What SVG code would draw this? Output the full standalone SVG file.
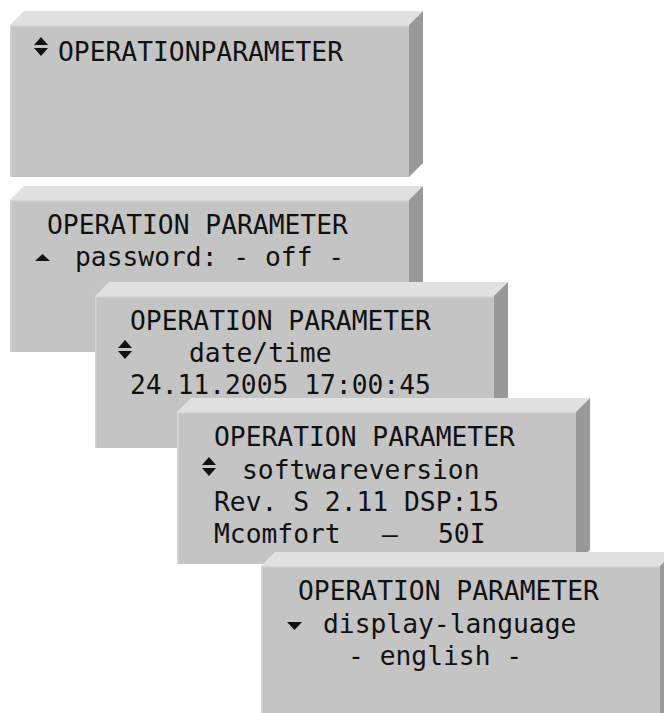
<svg xmlns="http://www.w3.org/2000/svg" xmlns:xlink="http://www.w3.org/1999/xlink" width="664" height="713" viewBox="0 0 664 713">
  <style>
    .front { fill: #c4c4c4; }
    .top { fill: #e1e1e1; }
    .side { fill: #999999; }
    .edge { stroke: #d6d6d6; stroke-width: 1.5; fill: none; }
    .lcd { font-family: "DejaVu Sans Mono", "Liberation Mono", monospace; font-size: 26.3px; fill: #111111; white-space: pre; }
    .mark { fill: #111111; }
  </style>
  <defs>
    <!-- bevelled display panel: front face 399 x 152, bevel depth 14 -->
    <g id="panel">
      <polygon class="top" points="0,0 14,-14 413,-14 399,0"/>
      <polygon class="side" points="399,0 413,-14 413,138 399,152"/>
      <rect class="front" x="0" y="0" width="399" height="152"/>
      <line class="edge" x1="0.75" y1="0" x2="0.75" y2="152"/>
      <line class="edge" x1="0" y1="0.75" x2="399" y2="0.75"/>
    </g>
    <!-- scroll indicators -->
    <g id="updown">
      <polygon class="mark" points="0,8 7,0 14,8"/>
      <polygon class="mark" points="0,11 14,11 7,19"/>
    </g>
    <polygon id="up" class="mark" points="0,7 7.5,0 15,7"/>
    <polygon id="down" class="mark" points="0,0 15,0 7.5,8"/>
  </defs>

  <g id="screen-1">
    <use xlink:href="#panel" x="10" y="25"/>
    <use xlink:href="#updown" x="34" y="37"/>
    <text class="lcd" x="58" y="61">OPERATIONPARAMETER</text>
  </g>

  <g id="screen-2">
    <use xlink:href="#panel" x="10" y="200"/>
    <text class="lcd" x="47" y="234">OPERATION PARAMETER</text>
    <use xlink:href="#up" x="35" y="254"/>
    <text class="lcd" x="75" y="266">password: - off -</text>
  </g>

  <g id="screen-3">
    <use xlink:href="#panel" x="95" y="296"/>
    <text class="lcd" x="130" y="330">OPERATION PARAMETER</text>
    <use xlink:href="#updown" x="118" y="340"/>
    <text class="lcd" x="189" y="362">date/time</text>
    <text class="lcd" x="130" y="394">24.11.2005 17:00:45</text>
  </g>

  <g id="screen-4">
    <use xlink:href="#panel" x="177" y="412"/>
    <text class="lcd" x="214" y="446">OPERATION PARAMETER</text>
    <use xlink:href="#updown" x="202" y="457"/>
    <text class="lcd" x="242" y="479">softwareversion</text>
    <text class="lcd" x="214" y="511">Rev. S 2.11 DSP:15</text>
    <text class="lcd" y="543"><tspan x="214">Mcomfort</tspan><tspan x="382">—</tspan><tspan x="438">50I</tspan></text>
  </g>

  <g id="screen-5">
    <use xlink:href="#panel" x="261" y="566"/>
    <text class="lcd" x="298" y="600">OPERATION PARAMETER</text>
    <use xlink:href="#down" x="287" y="622"/>
    <text class="lcd" x="323" y="633">display-language</text>
    <text class="lcd" x="348" y="665">- english -</text>
  </g>
</svg>
